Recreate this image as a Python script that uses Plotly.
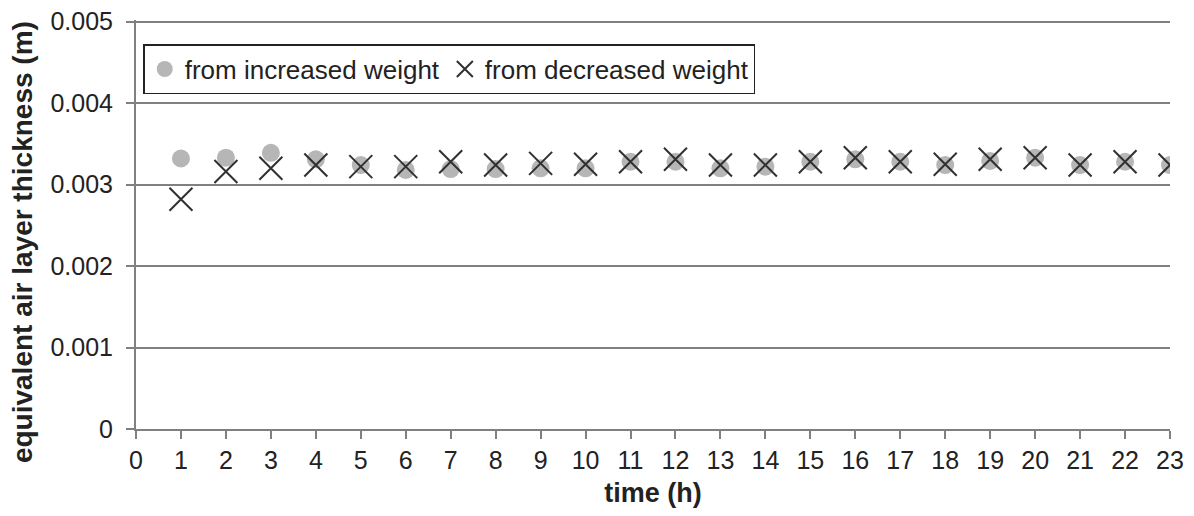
import plotly.graph_objects as go

hours = list(range(1, 24))
increased = [0.00332, 0.00333, 0.00339, 0.00331, 0.00324, 0.00318, 0.00319, 0.00319, 0.00320,
             0.00320, 0.00328, 0.00328, 0.00320, 0.00322, 0.00328, 0.00331, 0.00328, 0.00324,
             0.00329, 0.00333, 0.00324, 0.00328, 0.00324]
decreased = [0.00282, 0.00316, 0.00320, 0.00324, 0.00322, 0.00322, 0.00328, 0.00324, 0.00326,
             0.00325, 0.00328, 0.00331, 0.00324, 0.00324, 0.00328, 0.00333, 0.00328, 0.00325,
             0.00331, 0.00333, 0.00324, 0.00328, 0.00324]
x_ticks = list(range(0, 24))
y_ticks = [0, 0.001, 0.002, 0.003, 0.004, 0.005]
y_tick_text = ["0", "0.001", "0.002", "0.003", "0.004", "0.005"]
y_title = "equivalent air layer thickness (m)"
x_title = "time (h)"

fig = go.Figure()
fig.add_trace(go.Scatter(
    x=hours, y=increased, mode="markers", name="from increased weight",
    marker=dict(symbol="circle", size=18, color="#b6b6b6", line=dict(width=0)),
))
fig.add_trace(go.Scatter(
    x=hours, y=decreased, mode="markers", name="from decreased weight",
    marker=dict(symbol="x-thin-open", size=23, color="#303030", line=dict(width=2, color="#303030")),
))

font = "Liberation Sans, Arial, sans-serif"
fig.update_layout(
    width=1186, height=508,
    margin=dict(l=128, r=24, t=12, b=87, pad=0, autoexpand=False),
    paper_bgcolor="white", plot_bgcolor="white",
    font=dict(family=font, size=25, color="#222222"),
    showlegend=True,
    legend=dict(
        orientation="h", x=0.007, y=0.941, xanchor="left", yanchor="top",
        bgcolor="white", bordercolor="#222222", borderwidth=1.5,
        font=dict(family=font, size=26, color="#222222"),
        itemsizing="trace", tracegroupgap=0, itemwidth=30,
    ),
    xaxis=dict(
        range=[0, 23], tickmode="array", tickvals=x_ticks,
        showgrid=False, zeroline=False, automargin=False,
        showline=True, linecolor="#808080", linewidth=2,
        ticks="outside", ticklen=8, tickcolor="#808080", tickwidth=1.5,
        ticklabeloverflow="allow",
        tickfont=dict(size=25, color="#222222"),
        title=dict(text="<b>" + x_title + "</b>", font=dict(size=27, color="#222222"), standoff=10),
    ),
    yaxis=dict(
        range=[0, 0.00502], tickmode="array", tickvals=y_ticks, ticktext=y_tick_text,
        showgrid=True, gridcolor="#808080", gridwidth=1.5, zeroline=False, automargin=False,
        showline=True, linecolor="#808080", linewidth=2,
        ticks="outside", ticklen=8, tickcolor="#808080", tickwidth=1.5,
        ticklabelstandoff=8, ticklabeloverflow="allow",
        tickfont=dict(size=25, color="#222222"),
    ),
    annotations=[dict(
        text="<b>" + y_title + "</b>", textangle=-90,
        xref="paper", yref="paper", x=0, y=0.457, xanchor="center", yanchor="middle",
        xshift=-114, showarrow=False,
        font=dict(family=font, size=28, color="#222222"),
    )],
)

fig.write_html("out.html")
